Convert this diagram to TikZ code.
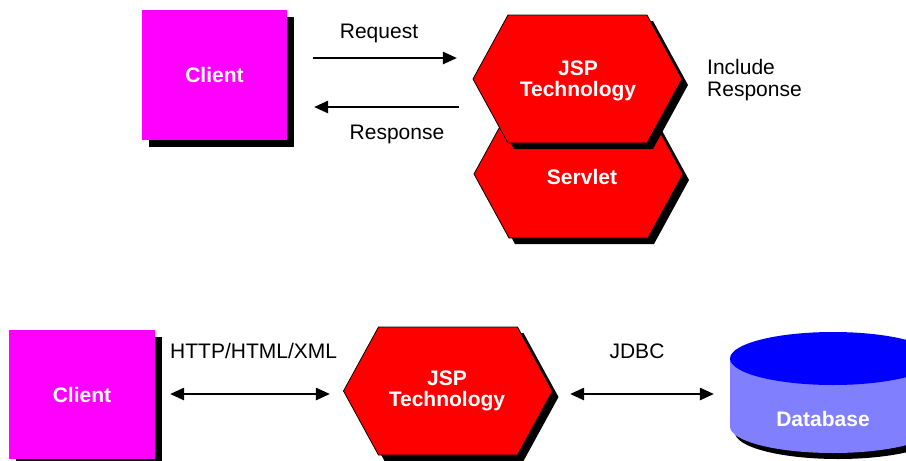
\documentclass[tikz,border=0pt]{standalone}
\usepackage{fontspec}
\setmainfont{Liberation Sans}
\usetikzlibrary{arrows.meta,calc,shadows}
\definecolor{cmag}{RGB}{255,0,255}
\definecolor{hexred}{RGB}{255,0,0}
\definecolor{dbtop}{RGB}{0,0,255}
\definecolor{dbbody}{RGB}{128,128,255}
\begin{document}
\begin{tikzpicture}[x=1pt,y=-1pt,
  every node/.style={font=\fontsize{21}{21.5}\selectfont},
  clientbox/.style={fill=cmag, inner sep=0pt, text=white, font=\fontsize{21}{21.5}\selectfont\bfseries,
    general shadow={fill=black, shadow xshift=7pt, shadow yshift=-7pt}},
  hexbox/.style={inner sep=0pt, text=white, align=center, font=\fontsize{21}{21.5}\selectfont\bfseries},
  lbl/.style={text=black, inner sep=0pt},
  arr/.style={line width=1.4pt, -{Triangle[length=14pt,width=12.5pt]}},
  darr/.style={line width=1.4pt, {Triangle[length=14pt,width=12.5pt]}-{Triangle[length=14pt,width=12.5pt]}},
  hexa/.pic={
    \fill[black] (-98.5,6) -- (-63.5,-58) -- (75.5,-58) -- (110.5,6) -- (75.5,70) -- (-63.5,70) -- cycle;
    \filldraw[fill=hexred, draw=black, line width=0.8pt] (-104.5,0) -- (-69.5,-64) -- (69.5,-64) -- (104.5,0) -- (69.5,64) -- (-69.5,64) -- cycle;
  }]
\useasboundingbox (0,0) rectangle (906,461);
\fill[white] (0,0) rectangle (906,461);

% ---------- top diagram ----------
\node[clientbox, minimum width=145pt, minimum height=130pt] (c1) at (214.5,75) {Client};

\pic at (578.5,174) {hexa};
\node[hexbox, minimum width=209pt, minimum height=128pt] (servlet) at (580,174) {};
\node[hexbox] (servlettext) at (582,177) {Servlet};

\pic at (577.5,79) {hexa};
\node[hexbox, minimum width=209pt, minimum height=130pt] (jsp1) at (577.5,79) {};
\node[hexbox] (jsp1text) at (578,81) {JSP\\Technology};

\draw[arr] ($(c1.east)+(26,-17)$) -- ($(jsp1.west)+(-16,-21)$);
\draw[arr] ($(jsp1.west)+(-14,28)$) -- ($(c1.east)+(27,32)$);

\node[lbl] (req) at (379,33) {Request};
\node[lbl] (resp) at (397,134) {Response};
\node[lbl, anchor=west, align=left] (incl) at (707,80) {Include\\Response};

% ---------- bottom diagram ----------
\node[clientbox, minimum width=146pt, minimum height=129pt] (c2) at (82,394.5) {Client};

\pic at (448,391) {hexa};
\node[hexbox, minimum width=210pt, minimum height=128pt] (jsp2) at (448,391) {};
\node[hexbox] (jsp2text) at (447,391) {JSP\\Technology};

% database cylinder
\begin{scope}[shift={(5,6)}]
  \fill[black] (730,358.5) -- (730,426.5) arc[start angle=180, end angle=0, x radius=103, y radius=26.5] -- (936,358.5) -- cycle;
\end{scope}
\fill[dbbody] (730,358.5) -- (730,426.5) arc[start angle=180, end angle=0, x radius=103, y radius=26.5] -- (936,358.5) -- cycle;
\fill[dbtop] (833,358.5) ellipse[x radius=103, y radius=26.5];
\node[inner sep=0pt, minimum width=206pt, minimum height=121pt] (db) at (833,392.5) {};
\node[hexbox] (dbtext) at (823,419) {Database};

\draw[darr] ($(c2.east)+(15,-0.5)$) -- ($(jsp2.west)+(-13,3)$);
\draw[darr] ($(jsp2.east)+(17,3)$) -- ($(db.west)+(-16,1.5)$);

\node[lbl, anchor=west] (http) at (170,351) {HTTP/HTML/XML};
\node[lbl] (jdbc) at (637,351) {JDBC};
\end{tikzpicture}
\end{document}
